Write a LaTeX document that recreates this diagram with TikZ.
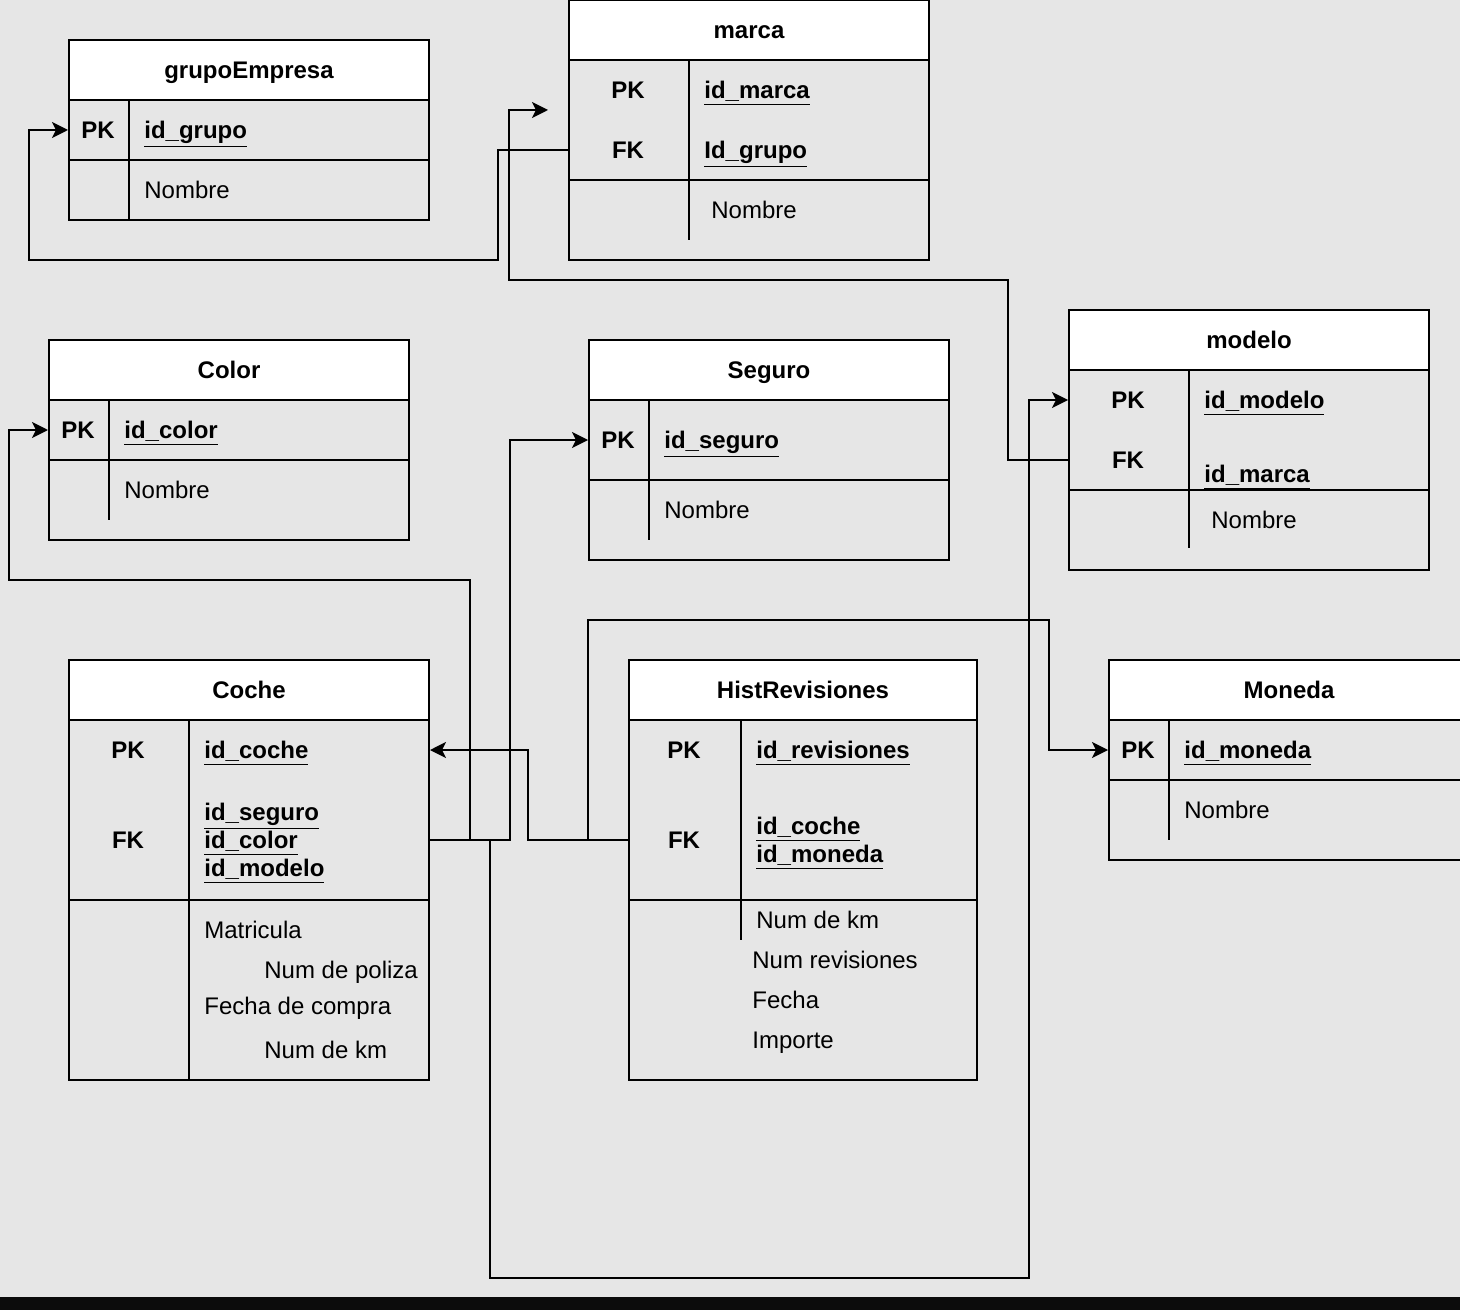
\documentclass[tikz,border=0pt]{standalone}
\usepackage{fontspec}
\setmainfont{Liberation Sans}
\usetikzlibrary{arrows.meta}
\definecolor{canvas}{HTML}{E6E6E6}
\definecolor{bar}{HTML}{0C0C0C}

\begin{document}
\begin{tikzpicture}[
   x=0.5pt,y=-0.5pt,
   font=\fontsize{12}{14}\selectfont,
   tbl/.style={draw,line width=1pt,inner sep=0pt,minimum width=180pt},
   head/.style={tbl,fill=white,font=\fontsize{12}{14}\selectfont\bfseries,text height=8.6pt,text depth=0pt},
   key/.style={inner sep=0pt,text height=8.6pt,text depth=0pt,font=\fontsize{12}{14}\selectfont\bfseries},
   fld/.style={key,anchor=west},
   attr/.style={inner sep=0pt,text height=8.6pt,text depth=0pt,anchor=west},
   rule/.style={line width=1pt},
   link/.style={-{Stealth[length=8pt,width=8pt,inset=2pt]},line width=0.9pt}]
\clip (0,0) rectangle (1460,1310);
\fill[canvas] (0,0) rectangle (1460,1310);
\fill[bar] (0,1297) rectangle (1460,1310);

% grupoEmpresa
\node[head,minimum height=30pt] (grupoHead) at (249,70) {grupoEmpresa};
\node[tbl,minimum height=30pt] (grupoKeys) at (249,130) {};
\node[tbl,minimum height=30pt] (grupoAttr) at (249,190) {};
\draw[rule] (129,100) -- (129,220);
\node[key] (grupoPK) at (98,130) {PK};
\node[fld] (grupoId) at (144,130) {\underline{id\_grupo}};
\node[attr] (grupoNombre) at (144,190) {Nombre};

% marca
\node[head,minimum height=30pt] (marcaHead) at (749,30) {marca};
\node[tbl,minimum height=60pt] (marcaKeys) at (749,120) {};
\node[tbl,minimum height=40pt] (marcaAttr) at (749,220) {};
\draw[rule] (689,60) -- (689,240);
\node[key] (marcaPK) at (628,90) {PK};
\node[key] (marcaFK) at (628,150) {FK};
\node[fld] (marcaId) at (704,90) {\underline{id\_marca}};
\node[fld] (marcaGrupo) at (704,150) {\underline{Id\_grupo}};
\node[attr] (marcaNombre) at (711,210) {Nombre};
\coordinate (marcaIn) at (548,110);

% modelo
\node[head,minimum height=30pt] (modeloHead) at (1249,340) {modelo};
\node[tbl,minimum height=60pt] (modeloKeys) at (1249,430) {};
\node[tbl,minimum height=40pt] (modeloAttr) at (1249,530) {};
\draw[rule] (1189,370) -- (1189,548);
\node[key] (modeloPK) at (1128,400) {PK};
\node[key] (modeloFK) at (1128,460) {FK};
\node[fld] (modeloId) at (1204,400) {\underline{id\_modelo}};
\node[fld] (modeloMarca) at (1204,474) {\underline{id\_marca}};
\node[attr] (modeloNombre) at (1211,520) {Nombre};

% Color
\node[head,minimum height=30pt] (colorHead) at (229,370) {Color};
\node[tbl,minimum height=30pt] (colorKeys) at (229,430) {};
\node[tbl,minimum height=40pt] (colorAttr) at (229,500) {};
\draw[rule] (109,400) -- (109,520);
\node[key] (colorPK) at (78,430) {PK};
\node[fld] (colorId) at (124,430) {\underline{id\_color}};
\node[attr] (colorNombre) at (124,490) {Nombre};

% Seguro
\node[head,minimum height=30pt] (seguroHead) at (769,370) {Seguro};
\node[tbl,minimum height=40pt] (seguroKeys) at (769,440) {};
\node[tbl,minimum height=40pt] (seguroAttr) at (769,520) {};
\draw[rule] (649,400) -- (649,540);
\node[key] (seguroPK) at (618,440) {PK};
\node[fld] (seguroId) at (664,440) {\underline{id\_seguro}};
\node[attr] (seguroNombre) at (664,510) {Nombre};

% Coche
\node[head,minimum height=30pt] (cocheHead) at (249,690) {Coche};
\node[tbl,minimum height=90pt] (cocheKeys) at (249,810) {};
\node[tbl,minimum height=90pt] (cocheAttr) at (249,990) {};
\draw[rule] (189,720) -- (189,1080);
\node[key] (cochePK) at (128,750) {PK};
\node[key] (cocheFK) at (128,840) {FK};
\node[fld] (cocheId) at (204,750) {\underline{id\_coche}};
\node[fld] (cocheSeguro) at (204,812) {\underline{id\_seguro}};
\node[fld] (cocheColor) at (204,840) {\underline{id\_color}};
\node[fld] (cocheModelo) at (204,868) {\underline{id\_modelo}};
\node[attr] (cocheMatricula) at (204,930) {Matricula};
\node[attr] (cochePoliza) at (264,970) {Num de poliza};
\node[attr] (cocheFecha) at (204,1006) {Fecha de compra};
\node[attr] (cocheKm) at (264,1050) {Num de km};

% HistRevisiones
\node[head,minimum width=174pt,minimum height=30pt] (histHead) at (803,690) {HistRevisiones};
\node[tbl,minimum width=174pt,minimum height=90pt] (histKeys) at (803,810) {};
\node[tbl,minimum width=174pt,minimum height=90pt] (histAttr) at (803,990) {};
\draw[rule] (741,720) -- (741,940);
\node[key] (histPK) at (684,750) {PK};
\node[key] (histFK) at (684,840) {FK};
\node[fld] (histId) at (756,750) {\underline{id\_revisiones}};
\node[fld] (histCoche) at (756,826) {\underline{id\_coche}};
\node[fld] (histMoneda) at (756,854) {\underline{id\_moneda}};
\node[attr] (histKm) at (756,920) {Num de km};
\node[attr] (histNum) at (752,960) {Num revisiones};
\node[attr] (histFecha) at (752,1000) {Fecha};
\node[attr] (histImporte) at (752,1040) {Importe};

% Moneda
\node[head,minimum height=30pt] (monedaHead) at (1289,690) {Moneda};
\node[tbl,minimum height=30pt] (monedaKeys) at (1289,750) {};
\node[tbl,minimum height=40pt] (monedaAttr) at (1289,820) {};
\draw[rule] (1169,720) -- (1169,840);
\node[key] (monedaPK) at (1138,750) {PK};
\node[fld] (monedaId) at (1184,750) {\underline{id\_moneda}};
\node[attr] (monedaNombre) at (1184,810) {Nombre};

% references
\draw[link] (marcaKeys.west |- marcaFK) -- ++(-70,0) |- (29,260) |- (grupoKeys.west);
\draw[link] (modeloKeys.west |- modeloFK) -- ++(-60,0) |- (509,280) |- (marcaIn);
\draw[link] (cocheKeys.east |- cocheFK) -- ++(40,0) |- (9,580) |- (colorKeys.west);
\draw[link] (cocheKeys.east |- cocheFK) -- ++(80,0) |- (seguroKeys.west);
\draw[link] (cocheKeys.east |- cocheFK) -- ++(60,0) |- (1029,1278) |- (modeloKeys.west |- modeloPK);
\draw[link] (histKeys.west |- histFK) -- ++(-100,0) |- (cocheKeys.east |- cochePK);
\draw[link] (histKeys.west |- histFK) -- ++(-40,0) |- (1049,620) |- (monedaKeys.west);
\end{tikzpicture}
\end{document}
